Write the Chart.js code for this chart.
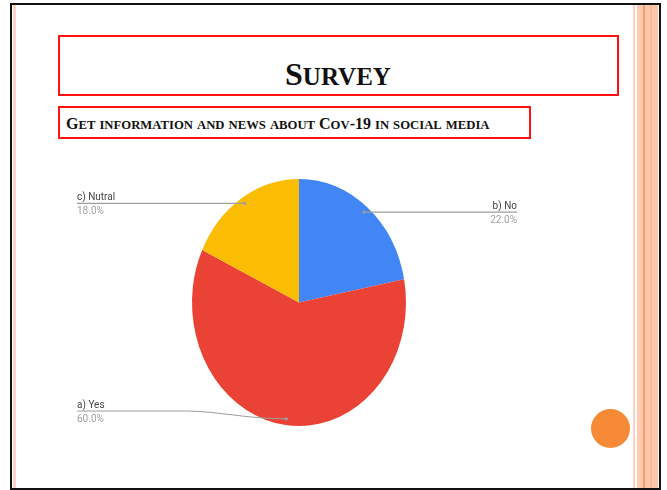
<!DOCTYPE html>
<html>
<head>
<meta charset="utf-8">
<title>Survey</title>
<script src="https://cdn.jsdelivr.net/npm/chart.js@4.4.1/dist/chart.umd.min.js"></script>
<style>
  html, body { margin: 0; padding: 0; background: #fff; }
  body { width: 667px; height: 490px; position: relative; overflow: hidden; }
  .abs { position: absolute; }
  #frame { left: 10px; top: 3px; width: 647px; height: 483px; border: 2px solid #111; box-sizing: content-box; }
  .stripe { top: 5px; height: 483px; }
  .redbox { border: 2px solid #ff1010; box-sizing: border-box; }
  .serif { font-family: "Liberation Serif", "DejaVu Serif", serif; font-weight: bold; color: #111; white-space: nowrap; }
  #title { left: 58px; width: 560px; top: 57.7px; font-size: 32px; line-height: 32px; text-align: center; }
  #title .sc { font-size: 25px; }
  #subtitle { left: 66px; top: 116.4px; font-size: 16px; line-height: 16px; }
  #subtitle .sc { font-size: 12.7px; }
  #dot { left: 590.5px; top: 408.5px; width: 39px; height: 39px; border-radius: 50%; background: #f68a36; }
  #chart { position: absolute; left: 0; top: 0; }
</style>
</head>
<body>
<div id="frame" class="abs"></div>
<div class="abs stripe" style="left:13px;width:3px;background:#fdd3c3;"></div>
<div class="abs stripe" style="left:633px;width:2px;background:#fbd2c2;"></div>
<div class="abs stripe" style="left:637px;width:6px;background:#fdcbb3;"></div>
<div class="abs stripe" style="left:643px;width:2px;background:#fa9e66;"></div>
<div class="abs stripe" style="left:645px;width:5px;background:#fdc8ad;"></div>
<div class="abs stripe" style="left:650px;width:2px;background:#fcb894;"></div>
<div class="abs stripe" style="left:652px;width:6px;background:#fdc6aa;"></div>

<div class="abs redbox" style="left:58px;top:35px;width:561px;height:61px;"></div>
<div class="abs redbox" style="left:58px;top:106px;width:473px;height:33px;"></div>

<div id="title" class="abs serif"></div>
<div id="subtitle" class="abs serif"></div>

<canvas id="chart" width="667" height="490"></canvas>
<div id="dot" class="abs"></div>

<script>
// Survey answers
const categories = ['b) No', 'a) Yes', 'c) Nutral'];
const shares = [22, 60, 18];
const sliceColors = ['#4285F4', '#EA4335', '#FBBC04'];

const titleText = 'Survey';
const subtitleText = 'Get information and news about Cov-19 in social media';

// Small-caps heading: lowercase letters become smaller capitals
function smallCaps(el, text, bigFirst) {
  let html = '';
  for (let i = 0; i < text.length; i++) {
    const ch = text[i];
    const isLower = ch !== ch.toUpperCase();
    const forceBig = bigFirst && i === 0;
    if (isLower && !forceBig) html += '<span class="sc">' + ch.toUpperCase() + '</span>';
    else html += ch.toUpperCase();
  }
  el.innerHTML = html;
}
smallCaps(document.getElementById('title'), titleText, true);
smallCaps(document.getElementById('subtitle'), subtitleText, true);

const STRETCH = 1.154; // vertical stretch of the pie and its callouts

// Draw the pie as an ellipse by stretching the context around its centre
const ellipsePie = {
  id: 'ellipsePie',
  beforeDatasetsDraw(chart) {
    const { ctx, chartArea } = chart;
    const cx = (chartArea.left + chartArea.right) / 2;
    const cy = (chartArea.top + chartArea.bottom) / 2;
    ctx.save();
    ctx.translate(cx, cy);
    ctx.scale(1, STRETCH);
    ctx.translate(-cx, -cy);
  },
  afterDatasetsDraw(chart) {
    chart.ctx.restore();
  }
};

// Leader lines with category name above and percentage below
const callouts = {
  id: 'callouts',
  afterDraw(chart, args, opts) {
    const { ctx } = chart;
    const meta = chart.getDatasetMeta(0);
    meta.data.forEach((arc, i) => {
      const c = opts.items[i];
      if (!c) return;
      const mid = (arc.startAngle + arc.endAngle) / 2;
      const r = arc.outerRadius * 0.95;
      const px = arc.x + Math.cos(mid) * r;
      const py = arc.y + Math.sin(mid) * r * STRETCH;
      const lineY = c.y !== undefined ? c.y : py;

      ctx.save();
      ctx.strokeStyle = '#9e9e9e';
      ctx.lineWidth = 1.2;
      ctx.beginPath();
      ctx.moveTo(c.x, lineY);
      if (c.knee !== undefined) {
        ctx.lineTo(c.knee, lineY);
        ctx.bezierCurveTo(c.knee + 30, lineY, px - 40, py, px, py);
      } else {
        ctx.lineTo(px, py);
      }
      ctx.stroke();
      ctx.fillStyle = '#9e9e9e';
      ctx.beginPath();
      ctx.arc(px, py, 1.6, 0, Math.PI * 2);
      ctx.fill();

      ctx.textAlign = c.align;
      ctx.textBaseline = 'alphabetic';
      const put = (txt, y, color) => {
        ctx.save();
        ctx.translate(c.x, y);
        ctx.scale(1, STRETCH);
        ctx.fillStyle = color;
        ctx.font = '10px Roboto, "Liberation Sans", sans-serif';
        ctx.fillText(txt, 0, 0);
        ctx.restore();
      };
      put(categories[i], lineY - 3.5, '#444');
      put(shares[i].toFixed(1) + '%', lineY + 11, '#a0a0a0');
      ctx.restore();
    });
  }
};

new Chart(document.getElementById('chart'), {
  type: 'pie',
  data: {
    labels: categories,
    datasets: [{
      data: shares,
      backgroundColor: sliceColors,
      borderWidth: 0,
      hoverOffset: 0
    }]
  },
  options: {
    responsive: false,
    animation: false,
    events: [],
    layout: { padding: { left: 192, right: 261, top: 195.5, bottom: 80.5 } },
    plugins: {
      legend: { display: false },
      tooltip: { enabled: false },
      title: { display: false },
      callouts: {
        items: [
          { x: 517, align: 'right' },
          { x: 77, y: 411, knee: 187, align: 'left' },
          { x: 77, align: 'left' }
        ]
      }
    }
  },
  plugins: [ellipsePie, callouts]
});
</script>
</body>
</html>
